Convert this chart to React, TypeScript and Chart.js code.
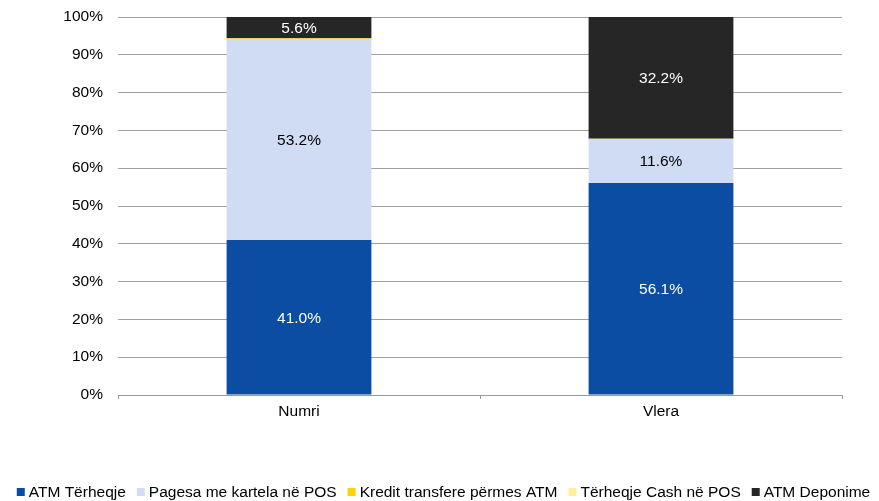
import React, { useEffect, useRef } from "react";
import { Chart, registerables } from "chart.js";

Chart.register(...registerables);

const categories = ["Numri", "Vlera"];
const seriesNames = [
  "ATM Tërheqje",
  "Pagesa me kartela në POS",
  "Kredit transfere përmes ATM",
  "Tërheqje Cash në POS",
  "ATM Deponime",
];
const atmTerheqje = [41.0, 56.1];
const pagesaPOS = [53.2, 11.6];
const kreditATM = [0.1, 0.0];
const cashPOS = [0.1, 0.1];
const atmDeponime = [5.6, 32.2];
const yTicks = [0, 10, 20, 30, 40, 50, 60, 70, 80, 90, 100];

const colors = ["#0A4DA2", "#CFDCF3", "#FFD200", "#FFF0A0", "#262626"];
const labelColors = ["#FFFFFF", "#000000", null, null, "#FFFFFF"];
const FONT = '"Liberation Sans", Arial, sans-serif';
const FS = 15.5;

const dataLabelPlugin = {
  id: "dataLabels",
  afterDatasetsDraw(chart: any) {
    const ctx = chart.ctx;
    ctx.save();
    ctx.font = `${FS}px ${FONT}`;
    ctx.textAlign = "center";
    ctx.textBaseline = "middle";
    chart.data.datasets.forEach((ds: any, i: number) => {
      const col = labelColors[i];
      if (!col) return;
      const meta = chart.getDatasetMeta(i);
      meta.data.forEach((el: any, j: number) => {
        const v = ds.data[j];
        if (v < 1) return;
        ctx.fillStyle = col;
        ctx.fillText(v.toFixed(1) + "%", el.x, (el.y + el.base) / 2 + 1);
      });
    });
    ctx.restore();
  },
};

const legendPlugin = {
  id: "customLegend",
  afterDraw(chart: any) {
    const ctx = chart.ctx;
    ctx.save();
    ctx.font = `${FS}px ${FONT}`;
    ctx.textBaseline = "middle";
    ctx.textAlign = "left";
    const box = 8;
    const gap = 4;
    const itemGap = 11;
    const widths = seriesNames.map((n) => box + gap + ctx.measureText(n).width);
    const total = widths.reduce((a, b) => a + b, 0) + itemGap * (seriesNames.length - 1);
    let x = chart.width / 2 - total / 2 + 4;
    const y = 492;
    seriesNames.forEach((n, i) => {
      ctx.fillStyle = colors[i];
      ctx.fillRect(x, y - box / 2, box, box);
      ctx.fillStyle = "#000000";
      ctx.fillText(n, x + box + gap, y + 1);
      x += widths[i] + itemGap;
    });
    ctx.restore();
  },
};

export default function App() {
  const ref = useRef<HTMLCanvasElement>(null);
  useEffect(() => {
    if (!ref.current) return;
    const seriesData = [atmTerheqje, pagesaPOS, kreditATM, cashPOS, atmDeponime];
    const chart = new Chart(ref.current, {
      type: "bar",
      data: {
        labels: categories,
        datasets: seriesNames.map((name, i) => ({
          label: name,
          data: seriesData[i],
          backgroundColor: colors[i],
          borderWidth: 0,
          barPercentage: 0.4,
          categoryPercentage: 1,
        })),
      },
      options: {
        responsive: false,
        animation: false,
        layout: { padding: { left: 0, right: 37, top: 17, bottom: 0 } },
        plugins: {
          legend: { display: false },
          tooltip: { enabled: false },
        },
        scales: {
          x: {
            stacked: true,
            offset: true,
            grid: {
              offset: true,
              drawOnChartArea: false,
              drawTicks: true,
              tickLength: 4,
              color: "#999999",
              lineWidth: 1,
            },
            border: { display: true, color: "#999999", width: 1 },
            ticks: {
              color: "#000000",
              font: { family: FONT, size: FS },
              padding: 3,
            },
            afterFit(scale: any) {
              scale.height = 106;
              scale.paddingLeft = 0;
              scale.paddingRight = 0;
            },
          },
          y: {
            stacked: true,
            min: 0,
            max: 100,
            afterBuildTicks(scale: any) {
              scale.ticks = yTicks.map((v) => ({ value: v }));
            },
            grid: {
              drawTicks: false,
              color: "#A0A0A0",
              lineWidth: 1,
            },
            border: { display: false },
            ticks: {
              color: "#000000",
              font: { family: FONT, size: FS },
              padding: 15,
              callback: (v: any) => v + "%",
            },
            afterFit(scale: any) {
              scale.width = 118;
              scale.paddingTop = 0;
              scale.paddingBottom = 0;
            },
          },
        },
      },
      plugins: [dataLabelPlugin, legendPlugin],
    });
    return () => chart.destroy();
  }, []);
  return (
    <div style={{ position: "fixed", left: 0, top: 0, width: 879, height: 501, background: "#fff" }}>
      <canvas ref={ref} width={879} height={501} style={{ display: "block" }} />
    </div>
  );
}
